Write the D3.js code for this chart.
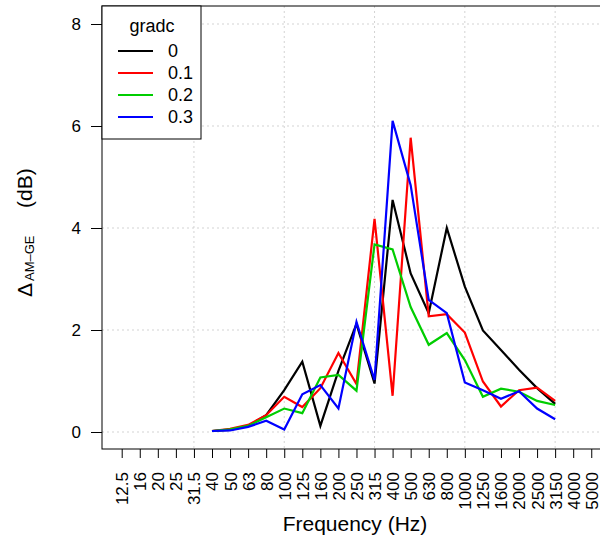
<!DOCTYPE html>
<html>
<head>
<meta charset="utf-8">
<script src="https://cdn.jsdelivr.net/npm/d3@7"></script>
<style>
  body { margin: 0; background: white; }
  svg { font-family: "Liberation Sans", Arial, sans-serif; }
</style>
</head>
<body>
<div id="chart"></div>
<script>
// tick labels on the x axis (third octave bands)
let freqs = ["12.5","16","20","25","31.5","40","50","63","80","100","125","160","200",
  "250","315","400","500","630","800","1000","1250","1600","2000","2500","3150","4000","5000"];
// bands that carry data
let dataFreqs = ["40","50","63","80","100","125","160","200","250","315","400","500",
  "630","800","1000","1250","1600","2000","2500","3150"];
let seriesNames = ["0","0.1","0.2","0.3"];
let grad0  = [0.02,0.04,0.12,0.33,0.82,1.38,0.12,1.2,2.12,0.95,4.55,3.11,2.33,4.0,2.85,1.99,1.61,1.22,0.86,0.55];
let grad01 = [0.02,0.06,0.14,0.33,0.69,0.49,0.86,1.55,0.94,4.18,0.71,5.77,2.27,2.31,1.95,0.99,0.50,0.82,0.87,0.61];
let grad02 = [0.02,0.05,0.12,0.29,0.46,0.37,1.07,1.12,0.81,3.68,3.58,2.45,1.71,1.94,1.41,0.69,0.85,0.79,0.61,0.53];
let grad03 = [0.02,0.03,0.10,0.22,0.05,0.74,0.92,0.46,2.16,1.02,6.1,4.84,2.59,2.33,0.97,0.82,0.65,0.80,0.46,0.25];
let yTicks = [0,2,4,6,8];

let series = [grad0, grad01, grad02, grad03];
let colors = ["#000000","#FF0000","#00CD00","#0000FF"];

let width = 600, height = 542;
let plot = {left: 102, top: 6, right: 640, bottom: 449};

let svg = d3.select("#chart")
  .append("svg")
    .attr("width", width)
    .attr("height", height);

// x is the band index, y the level difference
let x = d3.scaleLinear()
  .domain([0, freqs.length - 1])
  .range([121.7, 121.7 + 18.06 * (freqs.length - 1)]);
let y = d3.scaleLinear()
  .domain([0, 8])
  .range([432, 24]);

// dotted grid
let grid = svg.append("g")
  .attr("stroke", "#d3d3d3")
  .attr("stroke-dasharray", "2,3")
  .attr("stroke-width", 1);
grid.selectAll("line.h")
  .data(yTicks)
  .enter().append("line")
    .attr("x1", plot.left).attr("x2", width)
    .attr("y1", d => y(d)).attr("y2", d => y(d));
grid.selectAll("line.v")
  .data([4, 9, 14, 19, 24])
  .enter().append("line")
    .attr("x1", d => x(d)).attr("x2", d => x(d))
    .attr("y1", plot.top).attr("y2", plot.bottom);

// plot box
svg.append("rect")
  .attr("x", plot.left).attr("y", plot.top)
  .attr("width", plot.right - plot.left)
  .attr("height", plot.bottom - plot.top)
  .attr("fill", "none")
  .attr("stroke", "black");

// x axis
let xAxis = d3.axisBottom(x)
  .tickValues(d3.range(freqs.length))
  .tickFormat(i => freqs[i])
  .tickSize(9)
  .tickSizeOuter(0);
let gx = svg.append("g")
  .attr("transform", "translate(0," + plot.bottom + ")")
  .call(xAxis);
gx.select(".domain").remove();
gx.selectAll("line").attr("stroke", "black");
gx.selectAll("text")
  .attr("font-size", 17)
  .attr("fill", "black")
  .attr("text-anchor", "end")
  .attr("dy", "0.35em")
  .attr("transform", "translate(0,23) rotate(-90)")
  .attr("x", 0).attr("y", 0);

// y axis
let yAxis = d3.axisLeft(y)
  .tickValues(yTicks)
  .tickSize(11)
  .tickSizeOuter(0)
  .tickPadding(10);
let gy = svg.append("g")
  .attr("transform", "translate(" + plot.left + ",0)")
  .call(yAxis);
gy.select(".domain").remove();
gy.selectAll("line").attr("stroke", "black");
gy.selectAll("text")
  .attr("font-size", 17)
  .attr("fill", "black");

// axis titles
svg.append("text")
  .attr("x", 355).attr("y", 531)
  .attr("text-anchor", "middle")
  .attr("font-size", 21)
  .text("Frequency (Hz)");

let yt = svg.append("g")
  .attr("transform", "translate(31.5,0) rotate(-90)")
  .attr("font-size", 21);
yt.append("text").attr("x", -297).attr("y", 0).text("\u0394");
yt.append("text").attr("x", -281).attr("y", 2).attr("font-size", 13).text("AM\u2013GE");
yt.append("text").attr("x", -208).attr("y", 0).text("(dB)");

// the lines
let line = d3.line()
  .x((d, i) => x(freqs.indexOf(dataFreqs[i])))
  .y(d => y(d));
svg.append("g")
  .selectAll("path")
  .data(series)
  .enter().append("path")
    .attr("d", line)
    .attr("fill", "none")
    .attr("stroke", (d, i) => colors[i])
    .attr("stroke-width", 2.2)
    .attr("stroke-linejoin", "miter");

// legend
let legend = svg.append("g");
legend.append("rect")
  .attr("x", 102).attr("y", 6)
  .attr("width", 99).attr("height", 133)
  .attr("fill", "white")
  .attr("stroke", "black");
legend.append("text")
  .attr("x", 152).attr("y", 32)
  .attr("text-anchor", "middle")
  .attr("font-size", 18)
  .text("gradc");
let items = legend.selectAll(".item")
  .data(seriesNames)
  .enter().append("g")
    .attr("class", "item")
    .attr("transform", (d, i) => "translate(0," + (51 + i * 22) + ")");
items.append("line")
  .attr("x1", 118).attr("x2", 153)
  .attr("stroke", (d, i) => colors[i])
  .attr("stroke-width", 2.2);
items.append("text")
  .attr("x", 168)
  .attr("dy", "0.35em")
  .attr("font-size", 18)
  .text(d => d);
</script>
</body>
</html>
